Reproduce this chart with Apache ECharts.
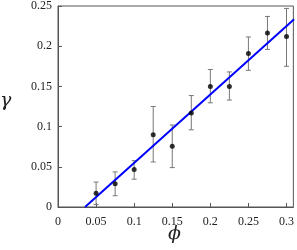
<!DOCTYPE html>
<html><head><meta charset="utf-8">
<script src="https://cdn.jsdelivr.net/npm/echarts@6/dist/echarts.min.js"></script>
<style>html,body{margin:0;padding:0;background:#fff}#c{width:297px;height:250px}</style>
</head><body><div id="c"></div>
<script>
var phi = [0.05, 0.075, 0.1, 0.125, 0.15, 0.175, 0.2, 0.225, 0.25, 0.275, 0.3];
var gamma = [0.017, 0.029, 0.0465, 0.090, 0.0757, 0.117, 0.150, 0.150, 0.191, 0.2165, 0.212];
var gammaHigh = [0.031, 0.0436, 0.0576, 0.125, 0.102, 0.1386, 0.171, 0.168, 0.2115, 0.237, 0.247];
var gammaLow = [0.003, 0.014, 0.0346, 0.056, 0.049, 0.096, 0.1296, 0.133, 0.170, 0.196, 0.175];
var fitX = [0.0355, 0.31];
var fitY = [0, 0.2335];
var xTicks = ['0', '0.05', '0.1', '0.15', '0.2', '0.25', '0.3'];
var yTicks = ['0', '0.05', '0.1', '0.15', '0.2', '0.25'];

var pts = phi.map(function (x, i) { return [x, gamma[i]]; });
var errs = phi.map(function (x, i) { return [x, gammaLow[i], gammaHigh[i]]; });
var fit = fitX.map(function (x, i) { return [x, fitY[i]]; });
var font = '"Liberation Serif", "DejaVu Serif", serif';
var axisCol = '#555';

var chart = echarts.init(document.getElementById('c'), null, {renderer: 'canvas'});
chart.setOption({
  animation: false,
  grid: {left: 58, right: 1, top: 4.5, bottom: 43, show: true, borderColor: axisCol, borderWidth: 1},
  xAxis: {
    type: 'value', min: 0, max: 0.309, interval: 0.05,
    axisLine: {lineStyle: {color: axisCol}},
    axisTick: {inside: true, length: 4, lineStyle: {color: axisCol}},
    splitLine: {show: false},
    axisLabel: {
      color: '#222', fontFamily: font, fontSize: 12, margin: 9, showMaxLabel: false,
      formatter: function (v) { var i = Math.round(v / 0.05); return Math.abs(v - i * 0.05) < 1e-6 ? (xTicks[i] || '') : ''; }
    }
  },
  yAxis: {
    type: 'value', min: 0, max: 0.25, interval: 0.05,
    axisLine: {lineStyle: {color: axisCol}},
    axisTick: {inside: true, length: 4, lineStyle: {color: axisCol}},
    splitLine: {show: false},
    axisLabel: {
      color: '#222', fontFamily: font, fontSize: 12, margin: 6,
      formatter: function (v) { var i = Math.round(v / 0.05); return yTicks[i] || ''; }
    }
  },
  graphic: [
    {type: 'text', left: 0, top: 92, style: {text: 'γ', font: 'italic 19px "DejaVu Serif", serif', fill: '#222'}},
    {type: 'text', left: 168, top: 225, style: {text: 'ϕ', font: 'italic 19px "DejaVu Serif", serif', fill: '#222'}}
  ],
  series: [
    {
      type: 'custom', data: errs, z: 2,
      renderItem: function (params, api) {
        var x = api.value(0);
        var lo = api.coord([x, api.value(1)]);
        var hi = api.coord([x, api.value(2)]);
        var w = 2.5;
        var st = {stroke: '#777', lineWidth: 1};
        return {type: 'group', children: [
          {type: 'line', shape: {x1: lo[0], y1: lo[1], x2: hi[0], y2: hi[1]}, style: st},
          {type: 'line', shape: {x1: lo[0] - w, y1: lo[1], x2: lo[0] + w, y2: lo[1]}, style: st},
          {type: 'line', shape: {x1: hi[0] - w, y1: hi[1], x2: hi[0] + w, y2: hi[1]}, style: st}
        ]};
      }
    },
    {
      type: 'line', data: fit, showSymbol: false, symbol: 'none', z: 3, clip: true,
      lineStyle: {color: '#0000ff', width: 2}
    },
    {
      type: 'scatter', data: pts, symbol: 'circle', symbolSize: 5, z: 4,
      itemStyle: {color: '#000'}
    }
  ]
});
</script></body></html>
